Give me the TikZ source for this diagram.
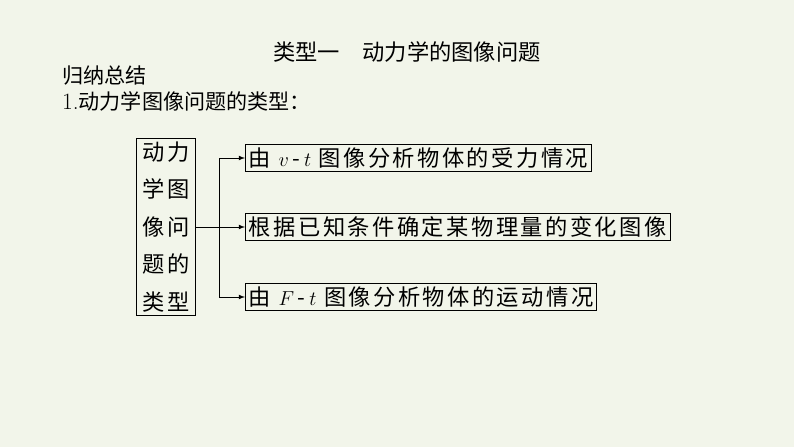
\documentclass[tikz,border=0pt]{standalone}
\usepackage{fontspec}
\newfontfamily\cjk[LetterSpace=11]{Noto Sans CJK SC}
\newfontfamily\cjkplain{Noto Sans CJK SC}
\definecolor{bgpaper}{RGB}{242,245,234}
\tikzset{
  box/.style={draw, thick, inner sep=3pt, font=\cjk\fontsize{19}{19}\selectfont},
  link/.style={thick, -latex}
}
\begin{document}
\begin{tikzpicture}[x=0.03cm, y=-0.03cm]
    \fill[bgpaper] (0,0) rectangle (794,447);
    \useasboundingbox (0,0) rectangle (794,447);

    \node[font=\cjkplain\fontsize{19}{19}\selectfont] (title) at (407,52) {类型一\quad 动力学的图像问题};
    \node[anchor=west, font=\cjkplain\fontsize{18}{18}\selectfont] (sum) at (58,76) {归纳总结};
    \node[anchor=west, font=\cjkplain\fontsize{18}{18}\selectfont] (kind) at (58,101) {\fontspec{Latin Modern Roman}\fontsize{20}{20}\selectfont 1.\cjkplain\fontsize{18}{18}\selectfont 动力学图像问题的类型：};

    \node[box, align=center, inner xsep=5pt, font=\cjk\fontsize{19}{32}\selectfont] (types) at (166,227) {动力\\学图\\像问\\题的\\类型};

    \node[box, anchor=west] (vt) at (245,158) {由 $v$\,-\,$t$ 图像分析物体的受力情况};
    \node[box, anchor=west] (chg) at (245,227) {根据已知条件确定某物理量的变化图像};
    \node[box, anchor=west] (ft) at (245,297) {由 $F$\,-\,$t$ 图像分析物体的运动情况};

    \coordinate (fork) at (219,227);
    \draw[link] (types) -- (chg);
    \draw[link] (fork) |- (vt);
    \draw[link] (fork) |- (ft);
\end{tikzpicture}
\end{document}
